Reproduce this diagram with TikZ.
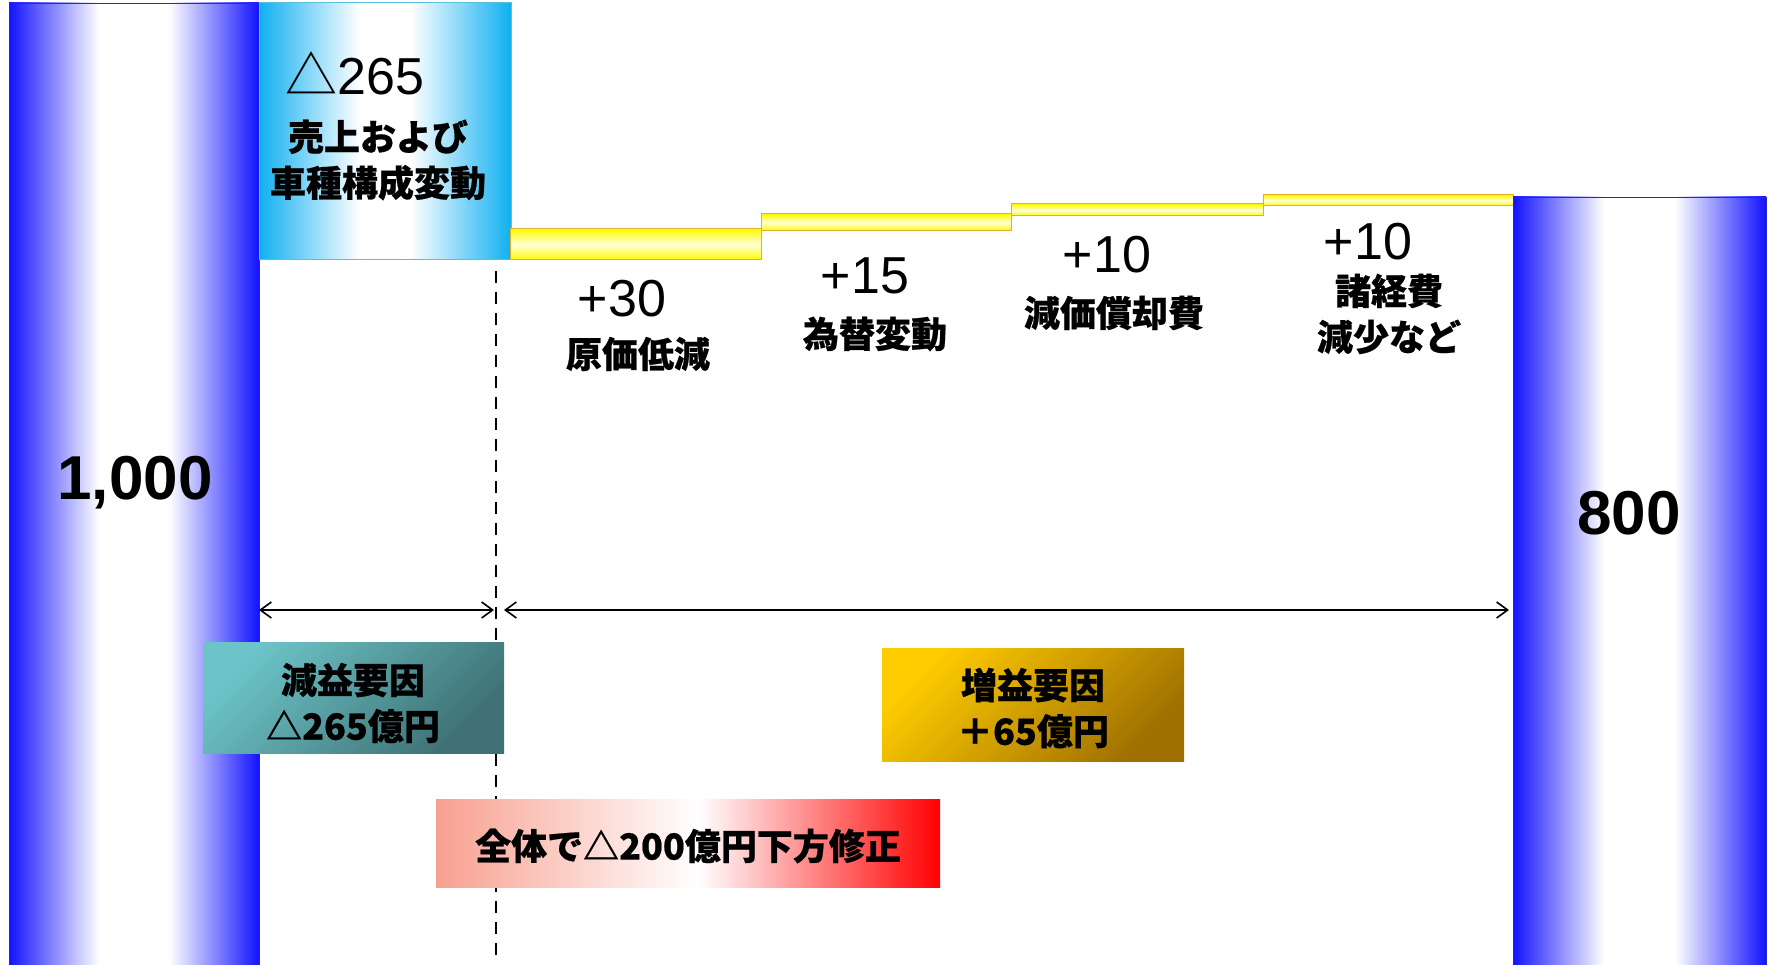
\documentclass[tikz,border=0pt]{standalone}
\usepackage{fontspec}
\setmainfont{Liberation Sans}
\newfontfamily\jp[BoldFeatures={FakeBold=0.6}]{Noto Sans CJK JP}
\usetikzlibrary{arrows.meta}
\definecolor{barblue}{RGB}{18,18,255}
\definecolor{barline}{RGB}{40,40,200}
\definecolor{cyanbox}{RGB}{16,176,240}
\definecolor{cyanline}{RGB}{90,190,225}
\definecolor{stepyel}{RGB}{255,250,0}
\definecolor{steplight}{RGB}{255,255,215}
\definecolor{stepline}{RGB}{225,175,40}
\definecolor{teallight}{RGB}{108,196,200}
\definecolor{tealdark}{RGB}{62,112,116}
\definecolor{goldlight}{RGB}{255,204,0}
\definecolor{golddark}{RGB}{160,112,0}
\definecolor{salmon}{RGB}{248,160,144}
\pgfdeclarehorizontalshading{barshade}{100bp}{color(0bp)=(barblue); color(25bp)=(barblue); color(43bp)=(white); color(57bp)=(white); color(75bp)=(barblue); color(100bp)=(barblue)}
\pgfdeclarehorizontalshading{cyanshade}{100bp}{color(0bp)=(cyanbox); color(25bp)=(cyanbox); color(45bp)=(white); color(55bp)=(white); color(75bp)=(cyanbox); color(100bp)=(cyanbox)}
\pgfdeclarehorizontalshading{redshade}{100bp}{color(0bp)=(salmon); color(25bp)=(salmon); color(51bp)=(white); color(75bp)=(red); color(100bp)=(red)}
\tikzset{
  box/.style={rectangle, anchor=north west, inner sep=0pt, outer sep=0pt},
  bar/.style={box, shading=barshade, draw=barline, line width=0.8pt},
  cyanbar/.style={box, shading=cyanshade, draw=cyanline, line width=1pt},
  stepbar/.style={box, top color=stepyel, bottom color=stepyel, middle color=steplight, draw=stepline, line width=1pt},
  tealbox/.style={box, top color=teallight, bottom color=tealdark, shading angle=45},
  goldbox/.style={box, top color=goldlight, bottom color=golddark, shading angle=45},
  redbox/.style={box, shading=redshade},
  num/.style={font=\fontsize{52}{60}\selectfont, inner sep=0pt},
  bignum/.style={font=\bfseries\fontsize{62}{70}\selectfont, inner sep=0pt},
  jlab/.style={font=\jp\bfseries\fontsize{36}{46}\selectfont, align=center, inner sep=0pt},
  dim/.style={line width=1.6pt, {Straight Barb[length=11pt,width=16pt]}-{Straight Barb[length=11pt,width=16pt]}},
  divider/.style={line width=2pt, dash pattern=on 12pt off 9pt}
}
\begin{document}
\begin{tikzpicture}[x=1pt,y=-1pt]
\useasboundingbox (0,0) rectangle (1768,965);
% bars and boxes
\node[bar, minimum width=250, minimum height=966] (b1000) at (9,3) {};
\node[cyanbar, minimum width=252, minimum height=257] (box265) at (259,3) {};
\node[stepbar, minimum width=251, minimum height=31] (s1) at (510,229) {};
\node[stepbar, minimum width=250, minimum height=17] (s2) at (761,214) {};
\node[stepbar, minimum width=252, minimum height=12] (s3) at (1011,204) {};
\node[stepbar, minimum width=250, minimum height=11] (s4) at (1263,195) {};
\node[bar, minimum width=253, minimum height=772] (b800) at (1513,197) {};
% divider
\coordinate (d1) at (496,271);
\coordinate (d2) at (496,960);
\draw[divider] (d1) -- (d2);
% dimension arrows
\coordinate (a1) at (b1000.east |- 0,610);
\coordinate (a2) at (494,610);
\coordinate (a3) at (504,610);
\coordinate (a4) at (1509,610);
\draw[dim] (a1) -- (a2);
\draw[dim] (a3) -- (a4);
% summary boxes
\node[tealbox, minimum width=301, minimum height=111] (gen) at (203,642) {};
\node[goldbox, minimum width=302, minimum height=113] (zou) at (882,648) {};
\node[redbox, minimum width=504, minimum height=88] (tot) at (436,799) {};
% texts
\node[num] (t265) at (355,73) {{\jp △}265};
\node[jlab] (l265) at (378,160) {売上および\\車種構成変動};
\node[num] (n30) at (622,299) {+30};
\node[jlab] (j30) at (638,354) {原価低減};
\node[num] (n15) at (865,276) {+15};
\node[jlab] (j15) at (875,334) {為替変動};
\node[num] (n10a) at (1107,255) {+10};
\node[jlab] (j10a) at (1114,313) {減価償却費};
\node[num] (n10b) at (1368,242) {+10};
\node[jlab] (j10b) at (1389,314) {諸経費\\減少など};
\node[bignum] (n1000) at (135,483) {1,000};
\node[bignum] (n800) at (1629,513) {800};
\node[jlab] (gent) at (353,703) {減益要因\\△265億円};
\node[jlab] (zout) at (1033,708) {増益要因\\＋65億円};
\node[jlab] (tott) at (688,846) {全体で△200億円下方修正};
\end{tikzpicture}
\end{document}
